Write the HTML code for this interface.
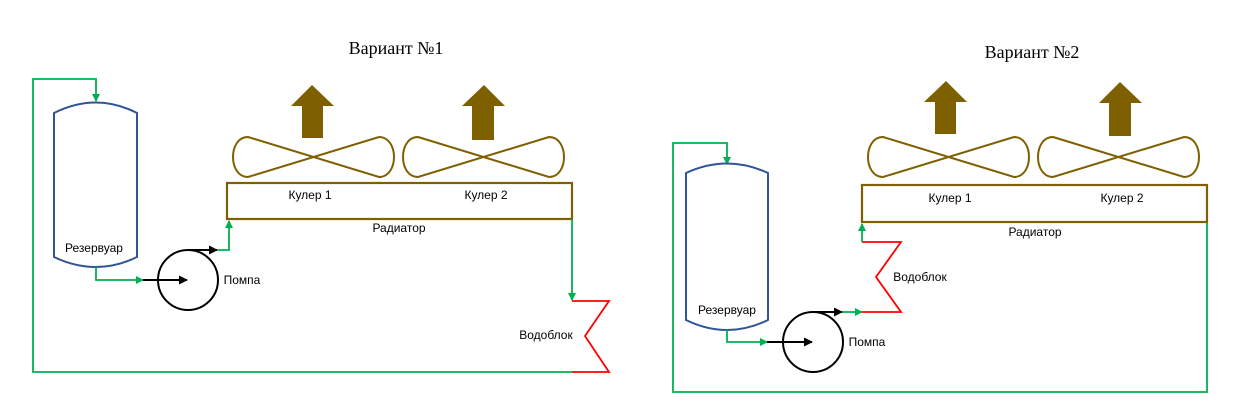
<!DOCTYPE html>
<html><head><meta charset="utf-8"><style>html,body{margin:0;padding:0;background:#fff}svg{display:block}</style></head>
<body>
<svg width="1244" height="417" viewBox="0 0 1244 417" xmlns="http://www.w3.org/2000/svg">
<defs>
<marker id="g" markerWidth="8" markerHeight="8" refX="7" refY="4" orient="auto" markerUnits="userSpaceOnUse"><path d="M0,0 L8,4 L0,8 Z" fill="#00b050"/></marker>
<marker id="k" markerWidth="9" markerHeight="9" refX="8" refY="4.5" orient="auto" markerUnits="userSpaceOnUse"><path d="M0,0 L9,4.5 L0,9 Z" fill="#000"/></marker>
</defs>
<g font-family="Liberation Sans, sans-serif" font-size="12" fill="#000">
<text x="396" y="54" font-family="Liberation Serif, serif" font-size="18" text-anchor="middle">Вариант №1</text>
<text x="1032" y="58" font-family="Liberation Serif, serif" font-size="18" text-anchor="middle">Вариант №2</text>
</g>

<!-- Variant 1 -->
<g fill="none" stroke-width="1.8">
<polyline points="572,372 33,372 33,79 96,79 96,101" stroke="#00b050" marker-end="url(#g)"/>
<path d="M54,113 Q96,92 137,113 L137,257 Q96,277 54,257 Z" stroke="#2f5597" stroke-width="2"/>
<polyline points="96,267 96,280 143,280" stroke="#00b050" marker-end="url(#g)"/>
<circle cx="188" cy="280" r="30" stroke="#000" stroke-width="2"/>
<line x1="143" y1="280" x2="187" y2="280" stroke="#000" stroke-width="2" marker-end="url(#k)"/>
<line x1="188" y1="250" x2="217" y2="250" stroke="#000" stroke-width="2" marker-end="url(#k)"/>
<polyline points="217,250 229,250 229,221" stroke="#00b050" marker-end="url(#g)"/>
<rect x="227" y="183" width="345" height="36" stroke="#7f6000" stroke-width="2.2"/>
<polyline points="572,219 572,300" stroke="#00b050" marker-end="url(#g)"/>
<polyline points="572,301 609,301 585,336 609,372 572,372" stroke="#ff0000"/>
<path d="M248,137 L379,177 C399,177 399,137 379,137 L248,177 C228,177 228,137 248,137 Z" stroke="#7f6000" stroke-width="2"/>
<path d="M418,137 L549,177 C569,177 569,137 549,137 L418,177 C398,177 398,137 418,137 Z" stroke="#7f6000" stroke-width="2"/>
</g>
<path d="M312,85 L334,106 L323,106 L323,138 L302,138 L302,106 L291,106 Z" fill="#7f6000"/>
<path d="M484,85 L505,106 L494,106 L494,140 L472,140 L472,106 L462,106 Z" fill="#7f6000"/>
<g font-family="Liberation Sans, sans-serif" font-size="12" fill="#000" text-anchor="middle">
<text x="94" y="252">Резервуар</text>
<text x="242" y="284">Помпа</text>
<text x="310" y="199">Кулер 1</text>
<text x="486" y="199">Кулер 2</text>
<text x="399" y="232">Радиатор</text>
<text x="546" y="339">Водоблок</text>
</g>

<!-- Variant 2 -->
<g fill="none" stroke-width="1.8">
<polyline points="1207,222 1207,392 673,392 673,143 727,143 727,164" stroke="#00b050" marker-end="url(#g)"/>
<path d="M686,173 Q727,154 768,173 L768,320 Q727,340 686,320 Z" stroke="#2f5597" stroke-width="2"/>
<polyline points="727,330 727,342 767,342" stroke="#00b050" marker-end="url(#g)"/>
<circle cx="813" cy="342" r="30" stroke="#000" stroke-width="2"/>
<line x1="767" y1="342" x2="812" y2="342" stroke="#000" stroke-width="2" marker-end="url(#k)"/>
<line x1="813" y1="312" x2="842" y2="312" stroke="#000" stroke-width="2" marker-end="url(#k)"/>
<polyline points="842,312 862,312" stroke="#00b050" marker-end="url(#g)"/>
<polyline points="862,312 901,312 876,277 901,242 862,242" stroke="#ff0000"/>
<polyline points="862,242 862,224" stroke="#00b050" marker-end="url(#g)"/>
<rect x="862" y="185" width="345" height="37" stroke="#7f6000" stroke-width="2.2"/>
<path d="M883,137 L1014,177 C1034,177 1034,137 1014,137 L883,177 C863,177 863,137 883,137 Z" stroke="#7f6000" stroke-width="2"/>
<path d="M1053,137 L1184,177 C1204,177 1204,137 1184,137 L1053,177 C1033,177 1033,137 1053,137 Z" stroke="#7f6000" stroke-width="2"/>
</g>
<path d="M946,81 L967,102 L956,102 L956,134 L935,134 L935,102 L924,102 Z" fill="#7f6000"/>
<path d="M1120,82 L1142,103 L1131,103 L1131,136 L1109,136 L1109,103 L1099,103 Z" fill="#7f6000"/>
<g font-family="Liberation Sans, sans-serif" font-size="12" fill="#000" text-anchor="middle">
<text x="727" y="314">Резервуар</text>
<text x="867" y="346">Помпа</text>
<text x="950" y="202">Кулер 1</text>
<text x="1122" y="202">Кулер 2</text>
<text x="1035" y="236">Радиатор</text>
<text x="920" y="281">Водоблок</text>
</g>
</svg>
</body></html>
